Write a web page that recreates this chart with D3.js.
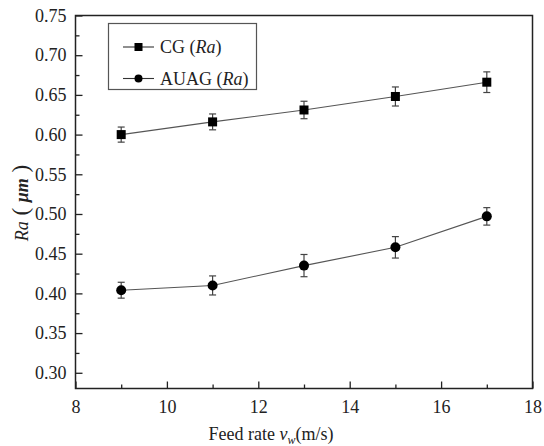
<!DOCTYPE html>
<html>
<head>
<meta charset="utf-8">
<script src="https://cdn.jsdelivr.net/npm/d3@7"></script>
<style>
  body { margin: 0; background: #fff; }
  svg { display: block; }
  svg text { font-family: "Liberation Serif", "Times New Roman", Times, "DejaVu Serif", serif !important; }
</style>
</head>
<body>
<svg id="chart" width="544" height="446"></svg>
<script>
// feed rate values (m/s)
const feedRates = [9, 11, 13, 15, 17];
const cgRa = [0.600, 0.616, 0.631, 0.648, 0.666];
const cgErr = [0.0095, 0.010, 0.011, 0.012, 0.013];
const auagRa = [0.404, 0.410, 0.435, 0.458, 0.497];
const auagErr = [0.010, 0.012, 0.014, 0.0135, 0.011];
const xTicks = [8, 10, 12, 14, 16, 18];
const yTicks = [0.30, 0.35, 0.40, 0.45, 0.50, 0.55, 0.60, 0.65, 0.70, 0.75];

(() => {
const svg = d3.select("#chart");
const plotLeft = 75.5, plotRight = 532.5, plotTop = 15.5, plotBottom = 388.5;

const x = d3.scaleLinear().domain([8, 18]).range([plotLeft, plotRight]);
const y = d3.scaleLinear().domain([0.2802, 0.75]).range([plotBottom, plotTop]);

// frame
svg.append("rect")
    .attr("x", plotLeft).attr("y", plotTop)
    .attr("width", plotRight - plotLeft).attr("height", plotBottom - plotTop)
    .attr("fill", "none").attr("stroke", "#222").attr("stroke-width", 1.5);

// x axis (ticks inward)
const xAxis = svg.append("g").attr("transform", `translate(0,${plotBottom})`);
xAxis.call(d3.axisBottom(x).tickValues(xTicks).tickSize(-7).tickPadding(12).tickFormat(d3.format("d")));
xAxis.append("g").call(d3.axisBottom(x).tickValues(d3.range(9, 18, 2)).tickSize(-4).tickFormat(""));

// y axis (ticks inward)
const yAxis = svg.append("g").attr("transform", `translate(${plotLeft},0)`);
yAxis.call(d3.axisLeft(y).tickValues(yTicks).tickSize(-7).tickPadding(9).tickFormat(d3.format(".2f")));
yAxis.append("g").call(d3.axisLeft(y).tickValues(d3.range(0.325, 0.75, 0.05)).tickSize(-4).tickFormat(""));

svg.selectAll(".domain").remove();
svg.selectAll(".tick line").attr("stroke", "#222").attr("stroke-width", 1.3);
svg.selectAll(".tick text")
    .attr("font-size", 18)
    .attr("fill", "#222");

// series
const series = [
  { name: "CG", values: cgRa, err: cgErr, shape: "square" },
  { name: "AUAG", values: auagRa, err: auagErr, shape: "circle" }
];

const line = d3.line().x((d, i) => x(feedRates[i])).y(d => y(d));

function drawMarker(g, shape, cx, cy) {
  if (shape === "square") {
    g.append("rect").attr("x", cx - 4.5).attr("y", cy - 4.5)
      .attr("width", 9).attr("height", 9).attr("fill", "#000");
  } else {
    g.append("circle").attr("cx", cx).attr("cy", cy).attr("r", 5).attr("fill", "#000");
  }
}

series.forEach(s => {
  svg.append("path")
      .attr("d", line(s.values))
      .attr("fill", "none")
      .attr("stroke", "#555")
      .attr("stroke-width", 1.1);

  const g = svg.append("g");
  s.values.forEach((v, i) => {
    const cx = x(feedRates[i]);
    const y1 = y(v + s.err[i]), y2 = y(v - s.err[i]);
    g.append("line").attr("x1", cx).attr("x2", cx).attr("y1", y1).attr("y2", y2)
      .attr("stroke", "#444").attr("stroke-width", 1.2);
    [y1, y2].forEach(yy => {
      g.append("line").attr("x1", cx - 3.5).attr("x2", cx + 3.5).attr("y1", yy).attr("y2", yy)
        .attr("stroke", "#444").attr("stroke-width", 1.2);
    });
    drawMarker(g, s.shape, cx, y(v));
  });
});

// legend
const legend = svg.append("g");
legend.append("rect")
    .attr("x", 108.5).attr("y", 23.5).attr("width", 148).attr("height", 66)
    .attr("fill", "#fff").attr("stroke", "#555").attr("stroke-width", 1.2);

series.forEach((s, i) => {
  const ly = 47 + i * 31.5;
  legend.append("line").attr("x1", 123).attr("x2", 154).attr("y1", ly).attr("y2", ly)
    .attr("stroke", "#333").attr("stroke-width", 1.1);
  if (s.shape === "square") {
    legend.append("rect").attr("x", 134.5).attr("y", ly - 4).attr("width", 8).attr("height", 8).attr("fill", "#000");
  } else {
    legend.append("circle").attr("cx", 138.5).attr("cy", ly).attr("r", 4).attr("fill", "#000");
  }
  const t = legend.append("text").attr("x", 160).attr("y", ly + 6)
    .attr("font-size", 18).attr("fill", "#222");
  t.append("tspan").text(s.name + " (");
  t.append("tspan").attr("font-style", "italic").text("Ra");
  t.append("tspan").text(")");
});

// axis titles
const xt = svg.append("text")
    .attr("x", 271).attr("y", 440)
    .attr("text-anchor", "middle")
    .attr("font-size", 18).attr("fill", "#222");
xt.append("tspan").text("Feed rate ");
xt.append("tspan").attr("font-style", "italic").text("v");
xt.append("tspan").attr("font-style", "italic").attr("font-size", 12).attr("dy", 4).text("w");
xt.append("tspan").attr("dy", -4).text("(m/s)");

const yt = svg.append("text")
    .attr("transform", "translate(28,203) rotate(-90)")
    .attr("text-anchor", "middle")
    .attr("font-size", 18).attr("fill", "#222");
yt.append("tspan").attr("font-style", "italic").text("Ra");
yt.append("tspan").attr("font-size", 23).text(" ( ");
yt.append("tspan").attr("font-style", "italic").attr("font-weight", "bold").text("μm");
yt.append("tspan").attr("font-size", 23).text(" )");
})();
</script>
</body>
</html>
